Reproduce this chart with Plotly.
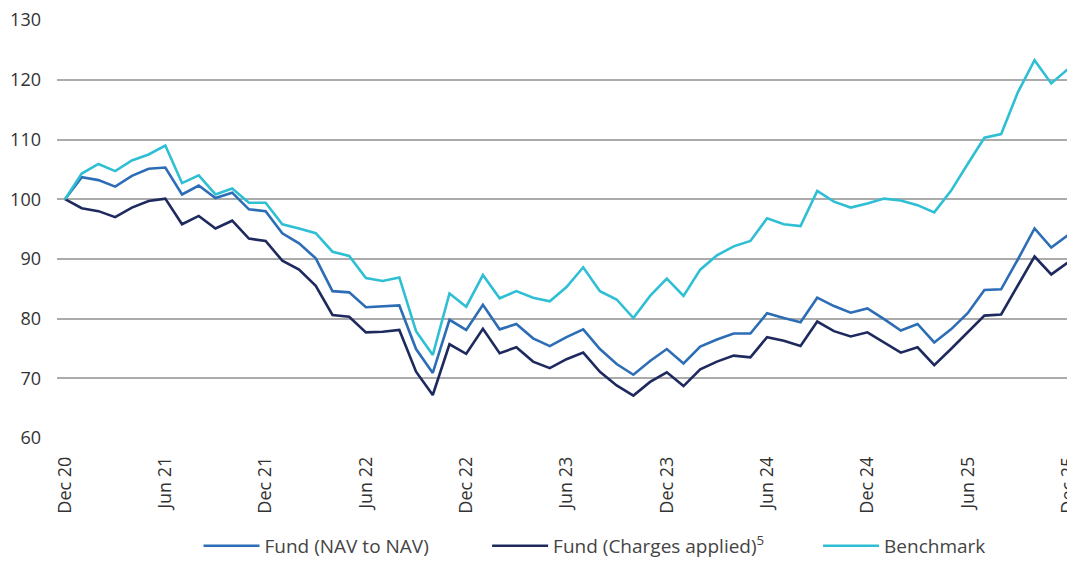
import plotly.graph_objects as go

months = list(range(61))
tick_vals = [0, 6, 12, 18, 24, 30, 36, 42, 48, 54, 60]
tick_text = ["Dec 20", "Jun 21", "Dec 21", "Jun 22", "Dec 22", "Jun 23",
             "Dec 23", "Jun 24", "Dec 24", "Jun 25", "Dec 25"]

fund_nav = [100, 103.7, 103.2, 102.1, 103.9, 105.1, 105.3, 100.8, 102.3, 100.2,
            101.1, 98.3, 98.0, 94.3, 92.6, 90.1, 84.6, 84.4, 81.9, 82.0,
            82.2, 74.9, 70.9, 79.8, 78.1, 82.3, 78.2, 79.1, 76.7, 75.4,
            76.9, 78.2, 74.9, 72.4, 70.6, 72.9, 74.9, 72.5, 75.3, 76.5,
            77.5, 77.5, 80.9, 80.1, 79.4, 83.5, 82.1, 81.0, 81.7, 79.9,
            78.0, 79.1, 76.0, 78.2, 80.9, 84.8, 84.9, 89.9, 95.1, 91.9, 94.0]

fund_charges = [100, 98.5, 98.0, 97.0, 98.6, 99.7, 100.1, 95.8, 97.2, 95.1,
                96.4, 93.4, 93.0, 89.7, 88.2, 85.5, 80.6, 80.3, 77.7, 77.8,
                78.1, 71.1, 67.2, 75.7, 74.1, 78.3, 74.2, 75.2, 72.8, 71.7,
                73.2, 74.3, 71.1, 68.8, 67.1, 69.4, 71.0, 68.7, 71.5, 72.8,
                73.8, 73.5, 76.9, 76.3, 75.4, 79.5, 77.9, 77.0, 77.7, 76.0,
                74.3, 75.2, 72.2, 74.9, 77.7, 80.5, 80.7, 85.5, 90.4, 87.4, 89.4]

benchmark = [100, 104.3, 105.9, 104.7, 106.5, 107.5, 109.0, 102.7, 104.0, 100.8,
             101.8, 99.4, 99.4, 95.8, 95.1, 94.3, 91.2, 90.5, 86.8, 86.3,
             86.9, 77.9, 73.9, 84.2, 82.0, 87.3, 83.4, 84.6, 83.5, 82.9,
             85.3, 88.6, 84.6, 83.2, 80.1, 83.8, 86.7, 83.8, 88.2, 90.6,
             92.1, 93.0, 96.8, 95.8, 95.5, 101.4, 99.6, 98.6, 99.3, 100.1,
             99.8, 99.0, 97.8, 101.4, 105.9, 110.3, 110.9, 117.9, 123.3, 119.4, 121.8]

series_names = ["Fund (NAV to NAV)", "Fund (Charges applied)<sup>5</sup>", "Benchmark"]
colors = ["#2C6DB6", "#1E2A5E", "#2EBFD5"]

fig = go.Figure()
for name, vals, col, lg in zip(series_names, [fund_nav, fund_charges, benchmark],
                               colors, ["legend", "legend2", "legend3"]):
    fig.add_trace(go.Scatter(x=months, y=vals, mode="lines", name=name,
                             line=dict(color=col, width=2.6), legend=lg,
                             showlegend=True))

legend_common = dict(orientation="h", yanchor="middle", y=-0.258, xanchor="left",
                     font=dict(family="Open Sans", size=19, color="#444444"),
                     bgcolor="rgba(0,0,0,0)", itemwidth=56, visible=True)

# page body has an 8px margin, so the figure is sized/offset to compensate
fig.update_layout(
    width=1067, height=555,
    margin=dict(l=49, r=0, t=12, b=125, autoexpand=False),
    plot_bgcolor="white", paper_bgcolor="white",
    showlegend=True,
    font=dict(family="Open Sans", size=18, color="#333333"),
    legend=dict(legend_common, x=0.139),
    legend2=dict(legend_common, x=0.4225),
    legend3=dict(legend_common, x=0.7476),
    xaxis=dict(range=[-0.48, 60.42], tickmode="array", tickvals=tick_vals,
               ticktext=tick_text, tickangle=-90, showgrid=False, zeroline=False,
               showline=False, ticks="", automargin=False, ticklabelstandoff=14,
               ticklabeloverflow="allow",
               tickfont=dict(size=18, color="#333333")),
    yaxis=dict(range=[60, 130.02], tickmode="array",
               tickvals=[60, 70, 80, 90, 100, 110, 120, 130],
               showgrid=True, gridcolor="#ABABAB",
               gridwidth=1.5, zeroline=False, showline=False, ticks="",
               automargin=False, ticklabelstandoff=15, ticklabeloverflow="allow",
               tickfont=dict(size=18, color="#333333")),
)

fig.write_html("out.html")
